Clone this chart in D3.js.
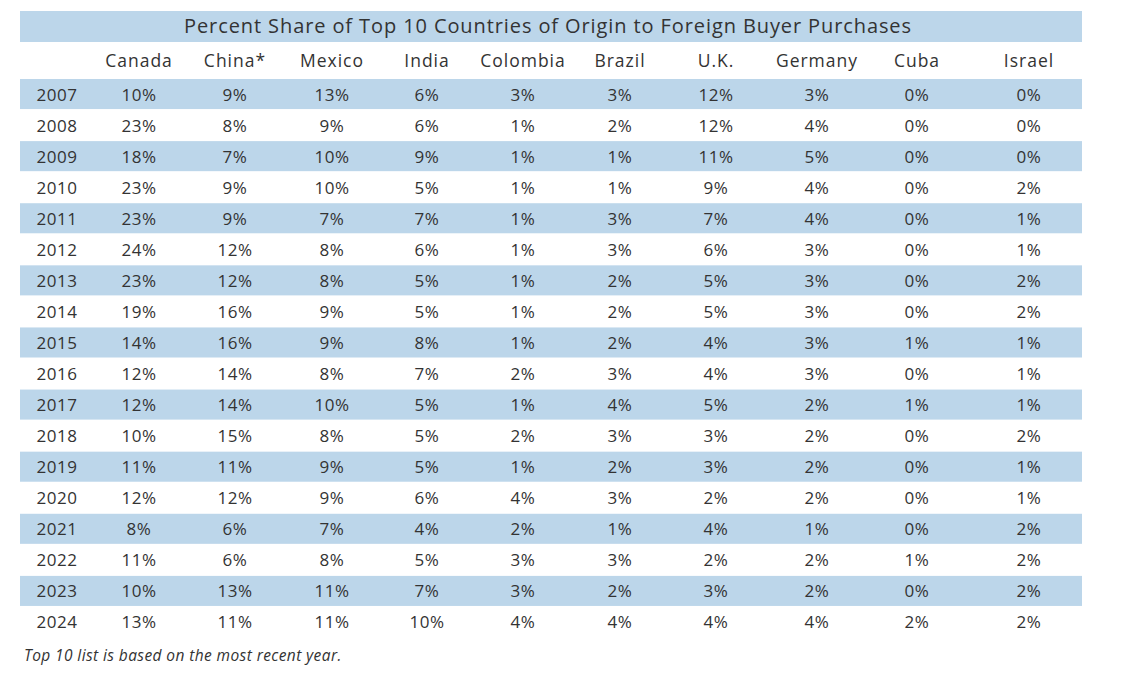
<!DOCTYPE html><html><head><meta charset="utf-8">
<script src="https://cdn.jsdelivr.net/npm/d3@7"></script>
<style>body{margin:0;background:#fff}svg{font-family:"Open Sans",sans-serif}</style></head><body>
<svg width="1129" height="673"></svg>
<script>
const title="Percent Share of Top 10 Countries of Origin to Foreign Buyer Purchases";
const countries=["Canada","China*","Mexico","India","Colombia","Brazil","U.K.","Germany","Cuba","Israel"];
const years=[2007,2008,2009,2010,2011,2012,2013,2014,2015,2016,2017,2018,2019,2020,2021,2022,2023,2024];
const Canada=[10,23,18,23,23,24,23,19,14,12,12,10,11,12,8,11,10,13];
const China=[9,8,7,9,9,12,12,16,16,14,14,15,11,12,6,6,13,11];
const Mexico=[13,9,10,10,7,8,8,9,9,8,10,8,9,9,7,8,11,11];
const India=[6,6,9,5,7,6,5,5,8,7,5,5,5,6,4,5,7,10];
const Colombia=[3,1,1,1,1,1,1,1,1,2,1,2,1,4,2,3,3,4];
const Brazil=[3,2,1,1,3,3,2,2,2,3,4,3,2,3,1,3,2,4];
const UK=[12,12,11,9,7,6,5,5,4,4,5,3,3,2,4,2,3,4];
const Germany=[3,4,5,4,4,3,3,3,3,3,2,2,2,2,1,2,2,4];
const Cuba=[0,0,0,0,0,0,0,0,1,0,1,0,0,0,0,1,0,2];
const Israel=[0,0,0,2,1,1,2,2,1,1,1,2,1,1,2,2,2,2];
const series=[Canada,China,Mexico,India,Colombia,Brazil,UK,Germany,Cuba,Israel];
const footnote="Top 10 list is based on the most recent year.";

const svg=d3.select("svg");
const blue="#bcd6ea", txt="#333";
const colX=[139,235,332,427,523,620,716,817,917,1029];
const x=d3.scaleOrdinal().domain(countries).range(colX);
const y=d3.scaleBand().domain(years).range([79,638]).padding(0);
svg.append("rect").attr("x",20).attr("y",11).attr("width",1062).attr("height",31).attr("fill",blue);
svg.append("text").attr("x",548).attr("y",33).attr("text-anchor","middle").attr("font-size",20).attr("letter-spacing",0.9).attr("fill",txt).text(title);
svg.selectAll(".hd").data(countries).join("text").attr("x",d=>x(d)).attr("y",67).attr("text-anchor","middle").attr("font-size",17.5).attr("letter-spacing",1).attr("fill",txt).text(d=>d);
svg.selectAll(".band").data(years.filter((d,i)=>i%2==0)).join("rect").attr("x",20).attr("width",1062)
 .attr("y",d=>y(d)).attr("height",y.bandwidth()-1).attr("fill",blue);
const rows=svg.selectAll(".row").data(years).join("g").attr("transform",d=>`translate(0,${y(d)+y.bandwidth()/2+6})`);
rows.append("text").attr("x",57).attr("text-anchor","middle").attr("font-size",17).attr("letter-spacing",0.5).attr("fill",txt).text(d=>d);
rows.each(function(yr,i){
 d3.select(this).selectAll(".v").data(countries).join("text").attr("x",c=>x(c)).attr("text-anchor","middle")
  .attr("font-size",17).attr("letter-spacing",0.5).attr("fill",txt).text((c,j)=>series[j][i]+"%");
});
svg.append("text").attr("x",24).attr("y",661).attr("font-size",15.5).attr("letter-spacing",0.4).attr("font-style","italic").attr("fill",txt).text(footnote);
</script></body></html>
